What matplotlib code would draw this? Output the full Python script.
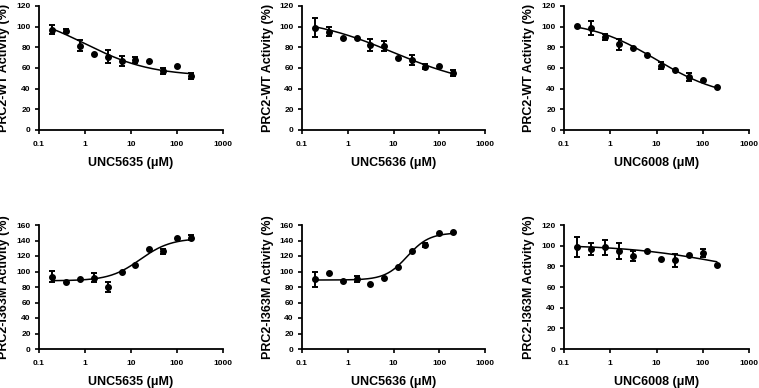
import numpy as np
import matplotlib
matplotlib.use("Agg")
from matplotlib import pyplot as plt

plt.rcParams['font.family'] = ['Liberation Sans', 'DejaVu Sans']
plt.rcParams['font.weight'] = 'bold'

# two-fold dilution series (uM)
conc = [0.195, 0.39, 0.78, 1.56, 3.125, 6.25, 12.5, 25, 50, 100, 200]

compounds = ["UNC5635", "UNC5636", "UNC6008"]

# PRC2-WT activity (%)
wt_5635 = [97, 95.4, 81.7, 74, 71, 66.8, 68, 66.8, 56.8, 62, 52]
wt_5635_err = [4.5, 2, 5, 0, 6, 5, 3, 0, 3, 0, 3]
wt_5636 = [99, 95.2, 89.4, 89.4, 82.3, 81.6, 70, 67.7, 61.3, 62, 55.5]
wt_5636_err = [9, 4, 0, 0, 6, 5, 0, 5, 2.5, 0, 3]
wt_6008 = [100.6, 98.6, 90.2, 82.8, 79.6, 72.8, 62.4, 57.6, 51.4, 48.2, 41.7]
wt_6008_err = [0, 7, 3, 5, 0, 0, 3, 0, 4, 0, 0]

# PRC2-I363M activity (%)
mut_5635 = [93.3, 86, 90.8, 92, 80, 99.4, 108.4, 128.6, 126, 143, 143.6]
mut_5635_err = [7, 0, 0, 6, 6, 0, 0, 0, 3, 0, 3]
mut_5636 = [89.9, 98, 87.3, 89.9, 84.3, 91.2, 106.2, 126.9, 134.2, 149.2, 150.5]
mut_5636_err = [9.5, 0, 0, 4, 0, 0, 0, 0, 3, 0, 0]
mut_6008 = [98.7, 96.8, 98.4, 94.8, 90, 95.2, 86.8, 85.8, 90.6, 92.9, 81]
mut_6008_err = [10, 6, 7, 7.5, 5, 0, 0, 6, 0, 4, 0]

# fitted dose-response curves: value at low dose, value at high dose, EC50, hill
fit_wt = [(115, 52, 1.0, 0.6), (110, 40, 10, 0.45), (106, 30, 10, 0.6)]
fit_mut = [(88, 143, 15.8, 1.3), (89, 150, 20, 1.8), (101, 65, 300, 0.4)]

wt = [(wt_5635, wt_5635_err), (wt_5636, wt_5636_err), (wt_6008, wt_6008_err)]
mut = [(mut_5635, mut_5635_err), (mut_5636, mut_5636_err), (mut_6008, mut_6008_err)]


def logistic(x, p):
    low, high, ec50, hill = p
    r = (x / ec50) ** hill
    return low + (high - low) * r / (1 + r)


def panel(ax, vals, errs, fit, compound, ylab, ymax):
    x = np.array(conc)
    y = np.array(vals)
    e = np.array(errs)
    xx = np.logspace(np.log10(x[0]), np.log10(x[-1]), 200)
    ax.plot(xx, logistic(xx, fit), color='black', lw=1.1)
    m = e > 0
    ax.errorbar(x[m], y[m], yerr=e[m], fmt='none', ecolor='black',
                elinewidth=1.4, capsize=2.5, capthick=1.4)
    ax.plot(x, y, 'o', color='black', ms=4)

    ax.set_xscale('log')
    ax.set_xlim(0.1, 1000)
    ax.set_ylim(0, ymax)
    ax.set_xticks([0.1, 1, 10, 100, 1000])
    ax.set_xticklabels(['0.1', '1', '10', '100', '1000'])
    ax.minorticks_off()
    ax.set_yticks(np.arange(0, ymax + 1, 20))
    ax.spines['top'].set_visible(False)
    ax.spines['right'].set_visible(False)
    for s in ['left', 'bottom']:
        ax.spines[s].set_linewidth(1.3)
    ax.tick_params(axis='both', direction='out', length=3, width=1.2,
                   labelsize=6, pad=3)
    ax.tick_params(axis='x', pad=5)
    for lab in ax.get_xticklabels() + ax.get_yticklabels():
        lab.set_fontweight('bold')
    ax.set_xlabel(compound + ' (\u03bcM)', fontsize=9, fontweight='bold')
    ax.set_ylabel(ylab, fontsize=9, fontweight='bold')
    ax.xaxis.set_label_coords(0.5, -0.22)
    ax.yaxis.set_label_coords(-0.155, 0.5)


fig = plt.figure(figsize=(7.59, 3.88), dpi=100)
lefts = [39 / 759, 302 / 759, 564 / 759]
widths = [184 / 759, 183 / 759, 185 / 759]
h = 124 / 388

for i in range(3):
    ax = fig.add_axes([lefts[i], 1 - 130 / 388, widths[i], h])
    panel(ax, wt[i][0], wt[i][1], fit_wt[i], compounds[i],
          'PRC2-WT Activity (%)', 120)

mut_ymax = [160, 160, 120]
for i in range(3):
    ax = fig.add_axes([lefts[i], 1 - 349 / 388, widths[i], h])
    panel(ax, mut[i][0], mut[i][1], fit_mut[i], compounds[i],
          'PRC2-I363M Activity (%)', mut_ymax[i])

fig.savefig('out.png', dpi=100)
